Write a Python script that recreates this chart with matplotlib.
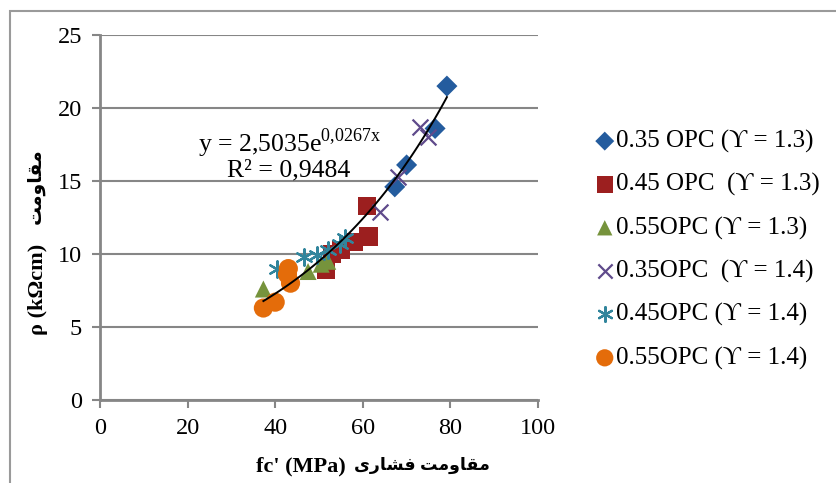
import numpy as np
import matplotlib
matplotlib.use("Agg")
import matplotlib.pyplot as plt
from matplotlib.patches import Rectangle

plt.rcParams['font.family'] = ['Liberation Serif', 'DejaVu Serif', 'DejaVu Sans']
plt.rcParams['mathtext.fontset'] = 'custom'
plt.rcParams['mathtext.rm'] = 'Liberation Serif'

# data: fc' (MPa) vs resistivity (kOhm cm)
labels = ["0.35 OPC (ϒ = 1.3)", "0.45 OPC  (ϒ = 1.3)", "0.55OPC (ϒ = 1.3)",
          "0.35OPC  (ϒ = 1.4)", "0.45OPC (ϒ = 1.4)", "0.55OPC (ϒ = 1.4)"]
x_035_13 = [79.2, 76.5, 70.0, 67.3]
y_035_13 = [21.5, 18.6, 16.1, 14.6]
x_045_13 = [61.0, 61.3, 58.0, 55.0, 53.0, 51.5]
y_045_13 = [13.3, 11.2, 10.8, 10.3, 10.0, 8.9]
x_055_13 = [37.3, 47.5, 50.5, 52.0]
y_055_13 = [7.6, 8.8, 9.3, 9.5]
x_035_14 = [73.0, 74.8, 68.0, 64.0]
y_035_14 = [18.7, 18.0, 15.3, 12.9]
x_045_14 = [40.5, 46.5, 49.5, 52.0, 54.8, 56.0]
y_045_14 = [9.0, 9.8, 9.9, 10.3, 10.7, 11.1]
x_055_14 = [37.3, 40.0, 43.5, 42.8, 43.0]
y_055_14 = [6.3, 6.7, 8.0, 8.6, 9.0]

# exponential trendline y = a*exp(b*x)
fit_a, fit_b = 2.5035, 0.0267
fit_range = (37.3, 79.2)

xs = [x_035_13, x_045_13, x_055_13, x_035_14, x_045_14, x_055_14]
ys = [y_035_13, y_045_13, y_055_13, y_035_14, y_045_14, y_055_14]
colors = ['#245C9E', '#9C1F1F', '#76933C', '#5F4A8B', '#31859C', '#E46C0A']
markers = ['D', 's', '^', 'x', (6, 2, 0), 'o']
sizes = [115, 170, 150, 130, 140, 190]

# minimal Persian shaping (presentation forms + visual order)
FORMS = {
    'ا': ('\uFE8D', '\uFE8E', None, None),
    'و': ('\uFEED', '\uFEEE', None, None),
    'ر': ('\uFEAD', '\uFEAE', None, None),
    'م': ('\uFEE1', '\uFEE2', '\uFEE3', '\uFEE4'),
    'ق': ('\uFED5', '\uFED6', '\uFED7', '\uFED8'),
    'ت': ('\uFE95', '\uFE96', '\uFE97', '\uFE98'),
    'ف': ('\uFED1', '\uFED2', '\uFED3', '\uFED4'),
    'ش': ('\uFEB5', '\uFEB6', '\uFEB7', '\uFEB8'),
    'ی': ('\uFEEF', '\uFEF0', '\uFEF3', '\uFEF4'),
}


def shape(text):
    out = []
    for i, ch in enumerate(text):
        if ch not in FORMS:
            out.append(ch)
            continue
        f = FORMS[ch]
        prev = text[i - 1] if i > 0 else ''
        nxt = text[i + 1] if i + 1 < len(text) else ''
        jp = prev in FORMS and FORMS[prev][2] is not None
        jn = nxt in FORMS and f[2] is not None
        if jp and jn:
            out.append(f[3])
        elif jp:
            out.append(f[1])
        elif jn:
            out.append(f[2])
        else:
            out.append(f[0])
    return ''.join(reversed(out))


fig = plt.figure(figsize=(8.37, 4.83), dpi=100)
ax = fig.add_axes([100 / 837, 83 / 483, 438 / 837, 365 / 483])

for x, y, c, m, s, lab in zip(xs, ys, colors, markers, sizes, labels):
    if m == 'x' or isinstance(m, tuple):
        ax.scatter(x, y, marker=m, s=s, color=c, linewidths=1.6, label=lab, zorder=3)
    else:
        ax.scatter(x, y, marker=m, s=s, color=c, edgecolors='none', label=lab, zorder=3)

xf = np.linspace(fit_range[0], fit_range[1], 100)
ax.plot(xf, fit_a * np.exp(fit_b * xf), color='black', lw=1.4, zorder=4)

ax.set_xlim(0, 100)
ax.set_ylim(0, 25)
ax.set_xticks(range(0, 101, 20))
ax.set_yticks(range(0, 26, 5))
for s in ['top', 'right']:
    ax.spines[s].set_visible(False)
for s in ['left', 'bottom']:
    ax.spines[s].set_color('#868686')
    ax.spines[s].set_linewidth(2)
ax.tick_params(colors='#868686', width=1.5, length=6, labelsize=17.5, labelcolor='black')
ax.tick_params(axis='y', pad=7)
ax.tick_params(axis='x', pad=7)
ax.grid(axis='y', color='#868686', lw=1.5)
ax.set_axisbelow(True)

ax.text(22.4, 17.6, r"y = 2,5035e$^{\mathregular{0{,}0267x}}$", fontsize=18.5, va='center')
ax.text(29.0, 15.75, "R² = 0,9484", fontsize=18.5, va='center')

bold_fam = ['Liberation Serif', 'DejaVu Sans']
# x label: latin part then Persian part
fig.text(346 / 837, 1 - 466 / 483, "fc' (MPa)", fontsize=16, fontweight='bold',
         family=bold_fam, ha='right', va='center')
fig.text(354 / 837, 1 - 465 / 483, shape("مقاومت فشاری"), fontsize=12.5,
         fontweight='bold', family=bold_fam, ha='left', va='center')
# y label: latin part then Persian part
fig.text(38 / 837, 1 - 335 / 483, "ρ (kΩcm)", fontsize=16, fontweight='bold',
         family=bold_fam, rotation=90, ha='center', va='bottom')
fig.text(36 / 837, 1 - 224 / 483, shape("مقاومت"), fontsize=13.5, fontweight='bold',
         family=bold_fam, rotation=90, ha='center', va='bottom')

ax.legend(loc='upper left', bbox_to_anchor=(586 / 837, 1 - 120 / 483),
          bbox_transform=fig.transFigure, frameon=False, fontsize=18,
          handlelength=0.7, handletextpad=0.1, labelspacing=0.81,
          borderaxespad=0, scatterpoints=1, markerscale=0.9)

fig.patches.append(Rectangle((10 / 837, -0.05), 1.2, 1 - 11 / 483 + 0.05,
                             transform=fig.transFigure, fill=False,
                             edgecolor='#9A9A9A', lw=1.5))

fig.savefig('out.png', dpi=100)
